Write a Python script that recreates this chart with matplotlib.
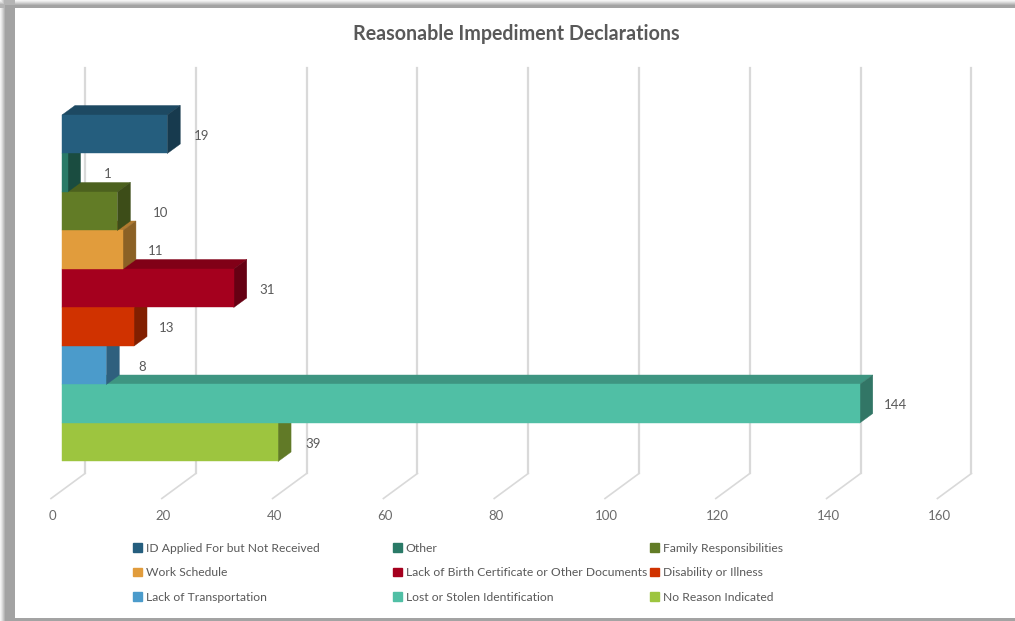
import matplotlib
matplotlib.use("Agg")
import matplotlib.pyplot as plt
from matplotlib.colors import to_rgb
from matplotlib.patches import Polygon, Rectangle

# Data
categories = [
    "ID Applied For but Not Received", "Other", "Family Responsibilities",
    "Work Schedule", "Lack of Birth Certificate or Other Documents", "Disability or Illness",
    "Lack of Transportation", "Lost or Stolen Identification", "No Reason Indicated",
]
counts = [19, 1, 10, 11, 31, 13, 8, 144, 39]
colors = ["#255E7E", "#2A7A67", "#627C26", "#E19C3C", "#A5001E", "#D03200",
          "#4B9BCB", "#50BFA5", "#9DC53F"]
x_ticks = [0, 20, 40, 60, 80, 100, 120, 140, 160]

W, H = 1015, 621
plt.rcParams["font.family"] = ["Lato", "DejaVu Sans"]
fig = plt.figure(figsize=(W / 100, H / 100), dpi=100)
ax = fig.add_axes([0, 0, 1, 1])

# one x unit is 5.54 px, one category row is 38.5 px
px_x, px_y = 5.54, 38.5
x0, y0 = 62, 115
ax.set_xlim(-x0 / px_x, (W - x0) / px_x)
ax.set_ylim((H - y0) / px_y, -y0 / px_y)
ax.axis("off")

depth_x, depth_y = 13 / px_x, 9.5 / px_y


def frame_rect(x, y, w, h, c, z=-5):
    fig.add_artist(Rectangle((x / W, 1 - (y + h) / H), w / W, h / H, fc=c, ec="none",
                             transform=fig.transFigure, zorder=z))


# frame of the screenshot: soft outer edge, then solid grey
frame_rect(0, 0, W, H, "#ffffff", -6)
for k, g in enumerate(["#f4f4f4", "#e8e8e8", "#d8d8d8", "#c6c6c6", "#b4b4b4"]):
    frame_rect(k, 0, 15 - k, H, g)
    frame_rect(0, k * 1.0, W, 8 - k, g)
frame_rect(5, 5, 10, H - 5, "#a3a3a3")
frame_rect(5, 5, W - 5, 3, "#a3a3a3")
frame_rect(15, 618, W - 15, 3, "#a3a3a3")

# gridlines on the back wall with the floor leg
wall = 23 / px_x
floor = len(categories) + 12 / px_y
for t in x_ticks:
    ax.plot([t + wall] * 2, [-47 / px_y, floor], color="#d9d9d9", lw=1.6, zorder=1)
    ax.plot([t + wall, t - 11 / px_x], [floor, floor + 25 / px_y], color="#d9d9d9", lw=1.2, zorder=1)
    ax.text(t - 1.7, floor + 43 / px_y, str(t), ha="center", va="center", fontsize=9.5, color="#6b6b6b")


def shade(color, f):
    return tuple(v * f for v in to_rgb(color))


# lower bars first, the ones above sit in front of them
label_dx = [34, 40, 43, 33, 33, 33, 36, 36, 35]
for i in reversed(range(len(counts))):
    v = counts[i]
    z = 3 + (len(counts) - i) * 0.1
    top = [(0, i), (v, i), (v + depth_x, i - depth_y), (depth_x, i - depth_y)]
    side = [(v, i), (v + depth_x, i - depth_y), (v + depth_x, i + 1 - depth_y), (v, i + 1)]
    top_c, side_c = shade(colors[i], 0.78), shade(colors[i], 0.62)
    ax.add_patch(Polygon(top, fc=top_c, ec=top_c, lw=0.3, zorder=z))
    ax.add_patch(Polygon(side, fc=side_c, ec=side_c, lw=0.3, zorder=z))
    ax.barh(i + 0.5, v, height=1, color=colors[i], ec=colors[i], lw=0.3, zorder=z + 0.01)
    ax.annotate(str(v), (v, i + 0.5), xytext=(label_dx[i] * 0.72, -1.1), textcoords="offset points",
                ha="center", va="center", fontsize=9.5, color="#595959", zorder=10)

ax.text((516.5 - x0) / px_x, (34 - y0) / px_y, "Reasonable Impediment Declarations", ha="center", va="center",
        fontsize=14.1, fontweight="bold", color="#595959")

# three legends so the columns sit where they do in the original
for col, left in enumerate([133, 393, 650]):
    idx = range(col, len(categories), 3)
    handles = [Rectangle((0, 0), 1, 1, color=colors[i]) for i in idx]
    leg = ax.legend(handles, [categories[i] for i in idx], loc="upper left", frameon=False,
                    bbox_to_anchor=(left / W, 1 - 542.5 / H), bbox_transform=fig.transFigure,
                    fontsize=8.75, labelcolor="#595959", handlelength=0.7, handleheight=0.7,
                    handletextpad=0.35, labelspacing=1.13, borderpad=0, borderaxespad=0)
    ax.add_artist(leg)
ax.legend_ = None  # already added above, would draw twice

fig.savefig("out.png", dpi=100)
